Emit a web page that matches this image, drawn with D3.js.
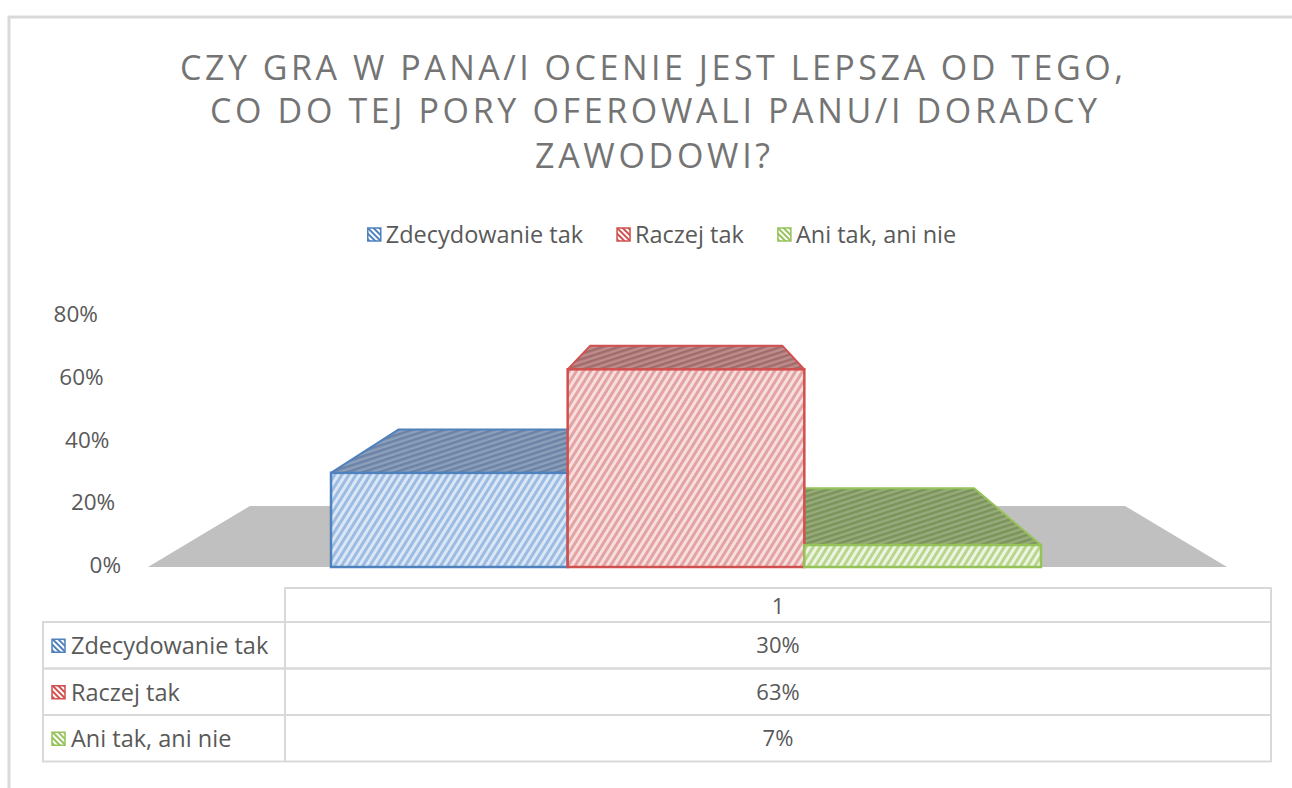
<!DOCTYPE html>
<html>
<head>
<meta charset="utf-8">
<script src="https://cdn.jsdelivr.net/npm/d3@7"></script>
<style>
  body { margin: 0; background: #fff; }
  svg { display: block; font-family: "Open Sans", sans-serif; }
</style>
</head>
<body>
<div id="chart"></div>
<script>
// data
const titleLines = [
    "CZY GRA W PANA/I OCENIE JEST LEPSZA OD TEGO,",
    "CO DO TEJ PORY OFEROWALI PANU/I DORADCY",
    "ZAWODOWI?"
];
const categories = ["1"];
const seriesNames = ["Zdecydowanie tak", "Raczej tak", "Ani tak, ani nie"];
const seriesValues = [0.30, 0.63, 0.07];
const yTicks = [0, 0.2, 0.4, 0.6, 0.8];

// styles per series
const strokeColors = ["#4f81bd", "#d0504f", "#96c25a"];
const frontLight = ["#dce7f5", "#f7dfdf", "#edf5e2"];
const frontStripe = ["#9dbce4", "#e3a3a2", "#b8d68e"];
const topLight = ["#8d9fba", "#bd8d8d", "#97ab7c"];
const topStripe = ["#6b83a6", "#a36a6a", "#7b9359"];

const W = 1292, H = 788;
const svg = d3.select("#chart").append("svg")
    .attr("width", W)
    .attr("height", H);

// patterns
const defs = svg.append("defs");
function makePattern(id, light, stripe, angle, size) {
    let p = defs.append("pattern")
        .attr("id", id)
        .attr("patternUnits", "userSpaceOnUse")
        .attr("width", size)
        .attr("height", size)
        .attr("patternTransform", `rotate(${angle})`);
    p.append("rect").attr("width", size).attr("height", size).attr("fill", light);
    p.append("rect").attr("width", size / 2).attr("height", size).attr("fill", stripe);
}
seriesNames.forEach((s, i) => {
    makePattern("front" + i, frontLight[i], frontStripe[i], 32, 6);
    makePattern("top" + i, topLight[i], topStripe[i], 72, 5);
    makePattern("swatch" + i, "#ffffff", strokeColors[i], -45, 4);
});

// frame
svg.append("path")
    .attr("d", `M9,${H} V17 H${W}`)
    .attr("fill", "none")
    .attr("stroke", "#d9d9d9")
    .attr("stroke-width", 3);

// title
const title = svg.append("g").attr("class", "title");
const titleSpec = [
    {y: 80, x0: 180, x1: 1123},
    {y: 123, x0: 210, x1: 1097},
    {y: 168, x0: 535, x1: 770}
];
titleLines.forEach((line, i) => {
    title.append("text")
        .attr("x", titleSpec[i].x0)
        .attr("y", titleSpec[i].y)
        .attr("textLength", titleSpec[i].x1 - titleSpec[i].x0)
        .attr("lengthAdjust", "spacing")
        .attr("font-size", 34)
        .attr("fill", "#747474")
        .text(line);
});

// legend
const legend = svg.append("g").attr("class", "legend");
let legendItems = seriesNames.map((s, i) => {
    let g = legend.append("g");
    g.append("rect")
        .attr("x", 0).attr("y", -7)
        .attr("width", 13).attr("height", 13)
        .attr("fill", `url(#swatch${i})`)
        .attr("stroke", strokeColors[i])
        .attr("stroke-width", 1.5);
    let t = g.append("text")
        .attr("x", 18)
        .attr("y", 8)
        .attr("font-size", 23.5)
        .attr("fill", "#595959")
        .text(s);
    return {g: g, w: 18 + t.node().getComputedTextLength()};
});
let legendGap = 34;
let legendTotal = d3.sum(legendItems, d => d.w) + legendGap * (legendItems.length - 1);
let lx = 662 - legendTotal / 2;
legendItems.forEach(d => {
    d.g.attr("transform", `translate(${lx}, 235)`);
    lx += d.w + legendGap;
});

// 3d geometry
const vp = [687.5, 244];
const depth = 0.189;
const back = p => [p[0] + depth * (vp[0] - p[0]), p[1] + depth * (vp[1] - p[1])];

const y = d3.scaleLinear()
    .domain([0, 0.8])
    .range([567, 316]);

const x = d3.scaleBand()
    .domain(seriesNames)
    .range([331, 1041])
    .paddingInner(0);

const line = d3.line();

// floor
const floorFront = [[148, y(0)], [1227, y(0)]];
svg.append("path")
    .attr("d", line([floorFront[0], floorFront[1], back(floorFront[1]), back(floorFront[0])]) + "Z")
    .attr("fill", "#c0c0c0");

// y axis labels (on the perspective wall)
svg.append("g")
    .attr("class", "y-axis")
    .selectAll("text")
    .data(yTicks)
    .join("text")
    .attr("x", d => 121 - (y(0) - y(d)) * 0.092)
    .attr("y", d => y(d) + 6)
    .attr("text-anchor", "end")
    .attr("font-size", 22.5)
    .attr("fill", "#595959")
    .text(d3.format(".0%"));

const bars = seriesNames.map((s, i) => {
    let x0 = x(s), x1 = x(s) + x.bandwidth();
    let yt = y(seriesValues[i]), yb = y(0);
    return {i: i, x0: x0, x1: x1, yt: yt, yb: yb};
});

// top faces
svg.selectAll(".bar-top")
    .data(bars)
    .join("path")
    .attr("class", "bar-top")
    .attr("d", d => line([[d.x0, d.yt], [d.x1, d.yt], back([d.x1, d.yt]), back([d.x0, d.yt])]) + "Z")
    .attr("fill", d => `url(#top${d.i})`)
    .attr("stroke", d => strokeColors[d.i])
    .attr("stroke-width", 2)
    .attr("stroke-linejoin", "round");

// front faces
svg.selectAll(".bar-front")
    .data(bars)
    .join("rect")
    .attr("class", "bar-front")
    .attr("x", d => d.x0)
    .attr("y", d => d.yt)
    .attr("width", d => d.x1 - d.x0)
    .attr("height", d => d.yb - d.yt)
    .attr("fill", d => `url(#front${d.i})`)
    .attr("stroke", d => strokeColors[d.i])
    .attr("stroke-width", 2.5);

// data table
const table = svg.append("g").attr("class", "data-table");
const tLeft = 43, tCol = 285, tRight = 1271;
const tHeaderTop = 588, tRowTop = 622, rowH = 46.5;
const gridColor = "#d9d9d9";

// header cell
table.append("rect")
    .attr("x", tCol).attr("y", tHeaderTop)
    .attr("width", tRight - tCol).attr("height", tRowTop - tHeaderTop)
    .attr("fill", "none").attr("stroke", gridColor).attr("stroke-width", 2);
table.append("text")
    .attr("x", (tCol + tRight) / 2)
    .attr("y", tHeaderTop + 26)
    .attr("text-anchor", "middle")
    .attr("font-size", 22)
    .attr("fill", "#595959")
    .text(categories[0]);

const rows = table.selectAll(".row")
    .data(seriesNames)
    .join("g")
    .attr("class", "row")
    .attr("transform", (d, i) => `translate(0, ${tRowTop + i * rowH})`);

rows.append("rect")
    .attr("x", tLeft).attr("y", 0)
    .attr("width", tRight - tLeft).attr("height", rowH)
    .attr("fill", "none").attr("stroke", gridColor).attr("stroke-width", 2);
rows.append("line")
    .attr("x1", tCol).attr("x2", tCol)
    .attr("y1", 0).attr("y2", rowH)
    .attr("stroke", gridColor).attr("stroke-width", 2);
rows.append("rect")
    .attr("x", 52).attr("y", rowH / 2 - 6)
    .attr("width", 13).attr("height", 13)
    .attr("fill", (d, i) => `url(#swatch${i})`)
    .attr("stroke", (d, i) => strokeColors[i])
    .attr("stroke-width", 1.5);
rows.append("text")
    .attr("x", 71)
    .attr("y", rowH / 2 + 9)
    .attr("font-size", 23.5)
    .attr("fill", "#595959")
    .text(d => d);
rows.append("text")
    .attr("x", (tCol + tRight) / 2)
    .attr("y", rowH / 2 + 8)
    .attr("text-anchor", "middle")
    .attr("font-size", 22)
    .attr("fill", "#595959")
    .text((d, i) => d3.format(".0%")(seriesValues[i]));
</script>
</body>
</html>
